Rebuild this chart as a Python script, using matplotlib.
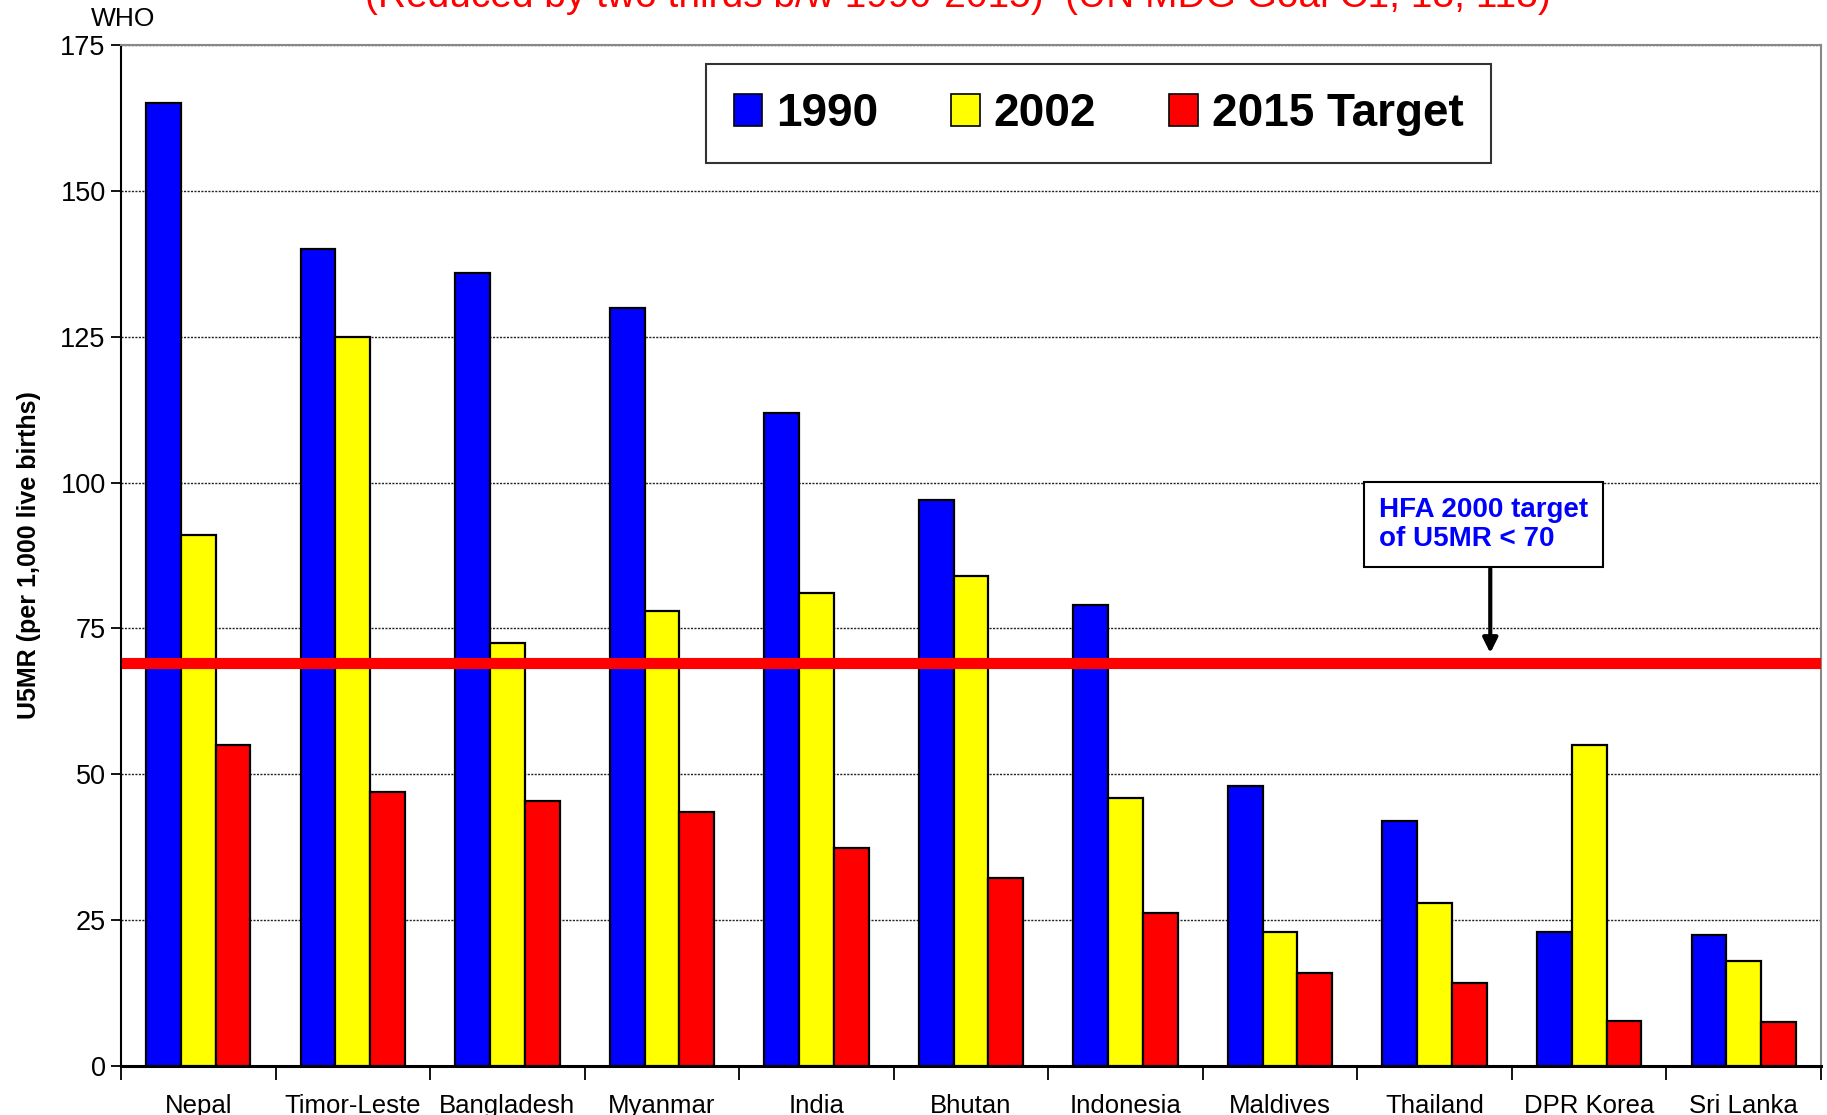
import numpy as np
import matplotlib
matplotlib.use("Agg")
from matplotlib import pyplot as plt
from matplotlib.patches import Patch

plt.rcParams['font.family'] = ['Liberation Sans', 'DejaVu Sans']

countries = ['Nepal', 'Timor-Leste', 'Bangladesh', 'Myanmar', 'India', 'Bhutan',
             'Indonesia', 'Maldives', 'Thailand', 'DPR Korea', 'Sri Lanka']
u5mr_1990 = [165, 140, 136, 130, 112, 97, 79, 48, 42, 23, 22.5]
u5mr_2002 = [91, 125, 72.5, 78, 81, 84, 46, 23, 28, 55, 18]
target_2015 = [55, 47, 45.5, 43.5, 37.3, 32.3, 26.3, 16, 14.3, 7.7, 7.5]
hfa_target = 69
series_names = ['1990', '2002', '2015 Target']
series_colors = ['#0000FF', '#FFFF00', '#FF0000']

fig = plt.figure(figsize=(18.27, 11.15), dpi=100)
ax = fig.add_axes([121 / 1827, 1 - 1066 / 1115, 1700 / 1827, 1021 / 1115])

x = np.arange(len(countries))
w = 0.225
for k, vals in enumerate([u5mr_1990, u5mr_2002, target_2015]):
    ax.bar(x + (k - 1) * w, vals, width=w, color=series_colors[k],
           edgecolor='black', linewidth=1.6, zorder=3)

# HFA 2000 line
ax.axhline(hfa_target, xmin=0.0035, xmax=1, color='#FF0000', lw=8, zorder=4)

ax.set_xlim(-0.5, len(countries) - 0.5)
ax.set_ylim(0, 175)
ax.set_yticks(np.arange(0, 176, 25))
ax.yaxis.grid(True, color='#222222', linestyle=(0, (1.5, 1)), lw=1, zorder=0)
ax.set_axisbelow(True)

ax.set_xticks(x)
ax.set_xticklabels(countries, fontsize=18.5)
ax.set_xticks(np.arange(-0.5, len(countries)), minor=True)
ax.tick_params(axis='x', which='major', length=0, pad=20)
ax.tick_params(axis='x', which='minor', length=10, width=1.3, direction='out')
ax.tick_params(axis='y', length=7, width=1.3, labelsize=19.5, pad=4)

for s in ['left', 'bottom']:
    ax.spines[s].set_color('black')
ax.spines['left'].set_linewidth(1.5)
ax.spines['bottom'].set_linewidth(2.2)
for s in ['top', 'right']:
    ax.spines[s].set_color('#888888')
    ax.spines[s].set_linewidth(1.5)

ax.set_ylabel('U5MR (per 1,000 live births)', fontsize=18, fontweight='bold', labelpad=14)

handles = [Patch(facecolor=c, edgecolor='black', linewidth=1.2) for c in series_colors]
leg = ax.legend(handles, series_names, loc='center', bbox_to_anchor=(0.575, 0.9325),
                ncol=3, prop={'size': 33, 'weight': 'bold'}, frameon=True, fancybox=False,
                handlelength=0.62, handleheight=0.72, handletextpad=0.3,
                columnspacing=1.6, borderpad=0.6, borderaxespad=0)
leg.get_frame().set_edgecolor('black')
leg.get_frame().set_linewidth(1.5)
leg.set_zorder(6)

# annotation box
ax.text(7.64, 92.8, 'HFA 2000 target\nof U5MR < 70', color='#0000FF', fontsize=20,
        fontweight='bold', ha='left', va='center', linespacing=1.12, zorder=6,
        bbox=dict(boxstyle='square,pad=0.55', facecolor='white', edgecolor='black', lw=1.5))
ax.annotate('', xy=(8.36, 70.3), xytext=(8.36, 85.7),
            arrowprops=dict(arrowstyle='-|>', color='black', lw=3, mutation_scale=22),
            zorder=6)

fig.text(91 / 1827, 1 - 19 / 1115, 'WHO', fontsize=19, ha='left', va='center')
fig.text(958 / 1827, 1 - 7 / 1115,
         '(Reduced by two thirds b/w 1990-2015)  (UN MDG Goal C1, 18, 118)',
         color='#FF0000', fontsize=28, ha='center', va='baseline')

fig.savefig('out.png', dpi=100)
